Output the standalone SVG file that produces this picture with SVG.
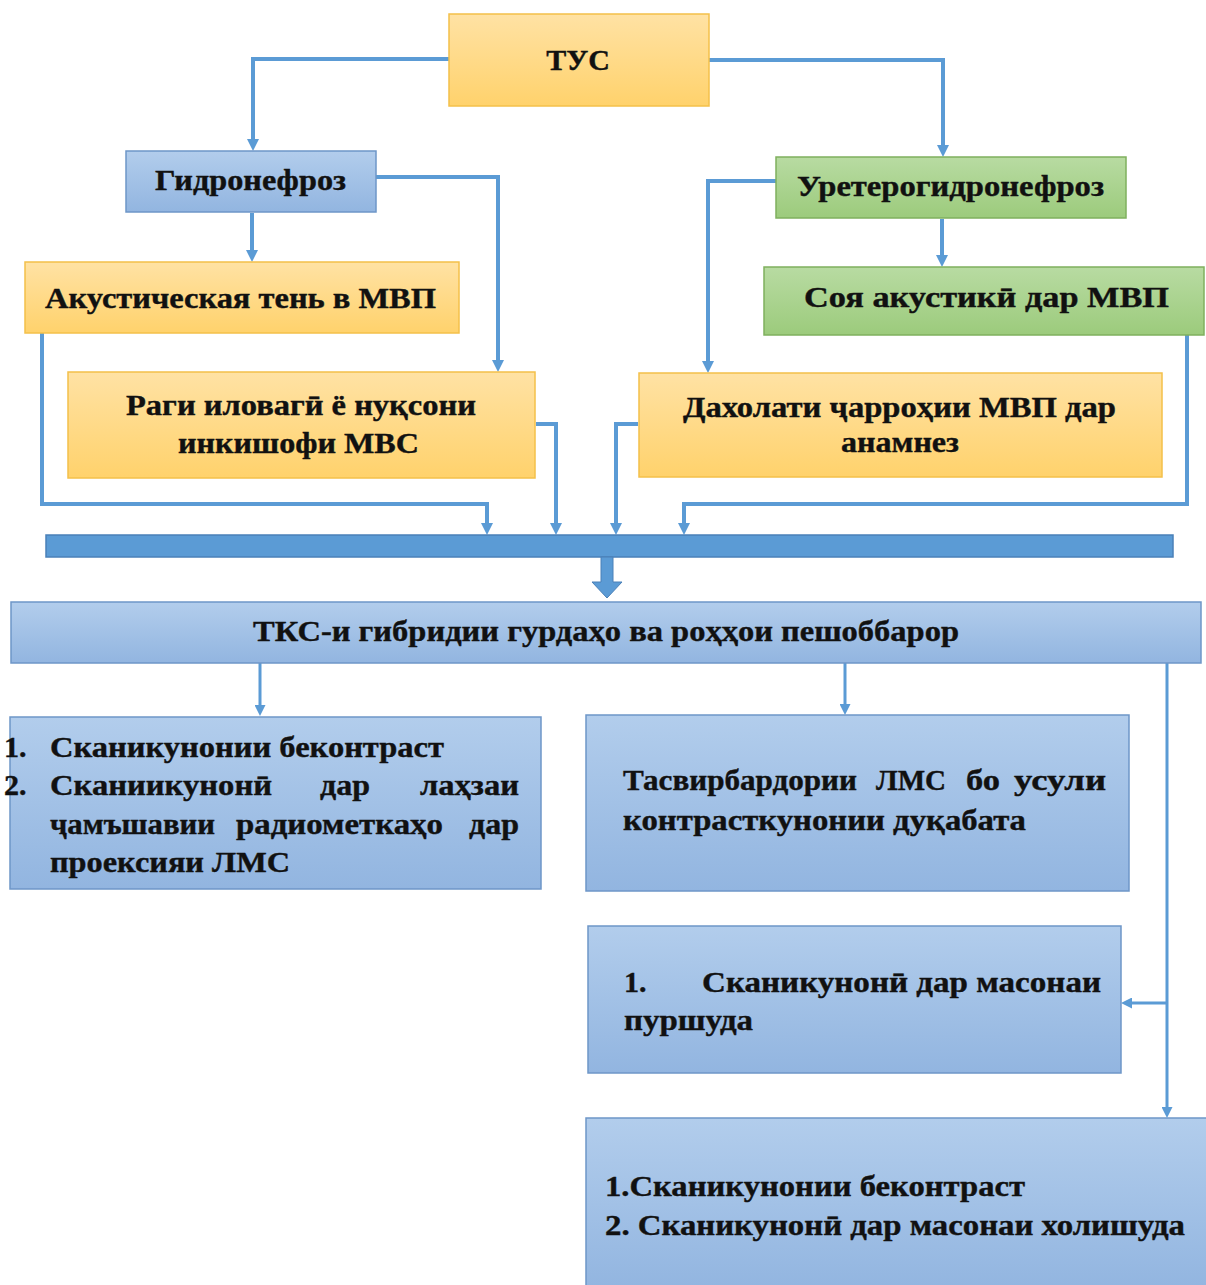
<svg xmlns="http://www.w3.org/2000/svg" width="1206" height="1285" viewBox="0 0 1206 1285">
<defs>
<linearGradient id="gO" x1="0" y1="0" x2="0" y2="1"><stop offset="0" stop-color="#FFE2A4"/><stop offset="1" stop-color="#FFD26C"/></linearGradient>
<linearGradient id="gG" x1="0" y1="0" x2="0" y2="1"><stop offset="0" stop-color="#B8DBA2"/><stop offset="1" stop-color="#9CCB7C"/></linearGradient>
<linearGradient id="gB" x1="0" y1="0" x2="0" y2="1"><stop offset="0" stop-color="#B2CDEC"/><stop offset="1" stop-color="#92B5E0"/></linearGradient>
<marker id="ah" viewBox="0 0 12 12" refX="0" refY="6" markerWidth="12" markerHeight="12" markerUnits="userSpaceOnUse" orient="auto"><path d="M0,0 L12,6 L0,12 z" fill="#5B9BD5"/></marker>
<marker id="ahs" viewBox="0 0 10 10" refX="0" refY="5" markerWidth="11" markerHeight="11" markerUnits="userSpaceOnUse" orient="auto"><path d="M0,0 L10,5 L0,10 z" fill="#5B9BD5"/></marker>
</defs>
<style>
.o{fill:url(#gO);stroke:#F4C04A;stroke-width:1.5}
.g{fill:url(#gG);stroke:#7FB05E;stroke-width:1.5}
.b{fill:url(#gB);stroke:#6E96C8;stroke-width:1.5}
text{font-family:"Liberation Serif","DejaVu Serif",serif;font-weight:bold;font-size:30px;fill:#111;stroke:#111;stroke-width:0.4}
.c{text-anchor:middle}
.cn{fill:none;stroke:#5B9BD5;stroke-width:4}
.cs{fill:none;stroke:#5B9BD5;stroke-width:3}
</style>
<rect width="1206" height="1285" fill="#FFFFFF"/>

<g id="connectors">
<path class="cn" d="M449,59 H253 V139" marker-end="url(#ah)"/>
<path class="cn" d="M709,60 H943 V145" marker-end="url(#ah)"/>
<path class="cn" d="M376,177 H498 V360" marker-end="url(#ah)"/>
<path class="cn" d="M252,213 V250" marker-end="url(#ah)"/>
<path class="cn" d="M776,181 H708 V361" marker-end="url(#ah)"/>
<path class="cn" d="M942,219 V255" marker-end="url(#ah)"/>
<path class="cn" d="M42,333 V504 H487 V523" marker-end="url(#ah)"/>
<path class="cn" d="M536,424 H556 V523" marker-end="url(#ah)"/>
<path class="cn" d="M638,424 H616 V523" marker-end="url(#ah)"/>
<path class="cn" d="M1187,335 V504 H684 V523" marker-end="url(#ah)"/>
<rect x="46" y="535" width="1127" height="22" fill="#5B9BD5" stroke="#4A80B8" stroke-width="1.5"/>
<path d="M601,557 H613 V582 H622 L607,598 L592,582 H601 Z" fill="#5B9BD5" stroke="#4A80B8" stroke-width="1"/>
<path class="cs" d="M260,663 V705" marker-end="url(#ahs)"/>
<path class="cs" d="M845,663 V704" marker-end="url(#ahs)"/>
<path class="cs" d="M1167,663 V1107" marker-end="url(#ahs)"/>
<path class="cs" d="M1167,1003 H1132" marker-end="url(#ahs)"/>
</g>

<g id="tus"><rect class="o" x="449" y="14" width="260" height="92"/><text class="c" x="578" y="70">ТУС</text></g>
<g id="gidronefroz"><rect class="b" x="126" y="151" width="250" height="61"/><text x="155" y="190" textLength="191" lengthAdjust="spacingAndGlyphs">Гидронефроз</text></g>
<g id="akusticheskaya"><rect class="o" x="25" y="262" width="434" height="71"/><text x="45" y="308" textLength="391" lengthAdjust="spacingAndGlyphs">Акустическая тень в МВП</text></g>
<g id="ureterogidronefroz"><rect class="g" x="776" y="157" width="350" height="61"/><text x="797" y="196" textLength="307" lengthAdjust="spacingAndGlyphs">Уретерогидронефроз</text></g>
<g id="soya"><rect class="g" x="764" y="267" width="440" height="68"/><text x="804" y="307" textLength="365" lengthAdjust="spacingAndGlyphs">Соя акустикӣ дар МВП</text></g>
<g id="ragi"><rect class="o" x="68" y="372" width="467" height="106"/><text x="126" y="415" textLength="350" lengthAdjust="spacingAndGlyphs">Раги иловагӣ ё нуқсони</text><text x="178" y="453" textLength="241" lengthAdjust="spacingAndGlyphs">инкишофи МВС</text></g>
<g id="daholati"><rect class="o" x="639" y="373" width="523" height="104"/><text x="683" y="417" textLength="433" lengthAdjust="spacingAndGlyphs">Дахолати ҷарроҳии МВП дар</text><text x="841" y="452" textLength="118" lengthAdjust="spacingAndGlyphs">анамнез</text></g>
<g id="tks"><rect class="b" x="11" y="602" width="1190" height="61"/><text x="253" y="641" textLength="706" lengthAdjust="spacingAndGlyphs">ТКС-и гибридии гурдаҳо ва роҳҳои пешоббарор</text></g>
<g id="box1"><rect class="b" x="10" y="717" width="531" height="172"/>
<text x="4" y="757">1.</text><text x="50" y="757" textLength="394" lengthAdjust="spacingAndGlyphs">Сканикунонии беконтраст</text>
<text x="4" y="795">2.</text><text x="50" y="795" textLength="222" lengthAdjust="spacingAndGlyphs">Сканиикунонӣ</text><text x="320" y="795" textLength="50" lengthAdjust="spacingAndGlyphs">дар</text><text x="420" y="795" textLength="99" lengthAdjust="spacingAndGlyphs">лаҳзаи</text>
<text x="50" y="834" textLength="165" lengthAdjust="spacingAndGlyphs">ҷамъшавии</text><text x="236" y="834" textLength="207" lengthAdjust="spacingAndGlyphs">радиометкаҳо</text><text x="469" y="834" textLength="50" lengthAdjust="spacingAndGlyphs">дар</text>
<text x="50" y="872" textLength="240" lengthAdjust="spacingAndGlyphs">проексияи ЛМС</text></g>
<g id="box2"><rect class="b" x="586" y="715" width="543" height="176"/>
<text x="623" y="790" textLength="234" lengthAdjust="spacingAndGlyphs">Тасвирбардории</text><text x="876" y="790" textLength="70" lengthAdjust="spacingAndGlyphs">ЛМС</text><text x="966" y="790" textLength="34" lengthAdjust="spacingAndGlyphs">бо</text><text x="1014" y="790" textLength="92" lengthAdjust="spacingAndGlyphs">усули</text>
<text x="623" y="830" textLength="403" lengthAdjust="spacingAndGlyphs">контрасткунонии дуқабата</text></g>
<g id="box3"><rect class="b" x="588" y="926" width="533" height="147"/>
<text x="624" y="992">1.</text><text x="702" y="992" textLength="399" lengthAdjust="spacingAndGlyphs">Сканикунонӣ дар масонаи</text>
<text x="624" y="1030" textLength="129" lengthAdjust="spacingAndGlyphs">пуршуда</text></g>
<g id="box4"><rect class="b" x="586" y="1118" width="625" height="172"/>
<text x="605" y="1196" textLength="420" lengthAdjust="spacingAndGlyphs">1.Сканикунонии беконтраст</text>
<text x="605" y="1235" textLength="580" lengthAdjust="spacingAndGlyphs">2. Сканикунонӣ дар масонаи холишуда</text></g>
</svg>
